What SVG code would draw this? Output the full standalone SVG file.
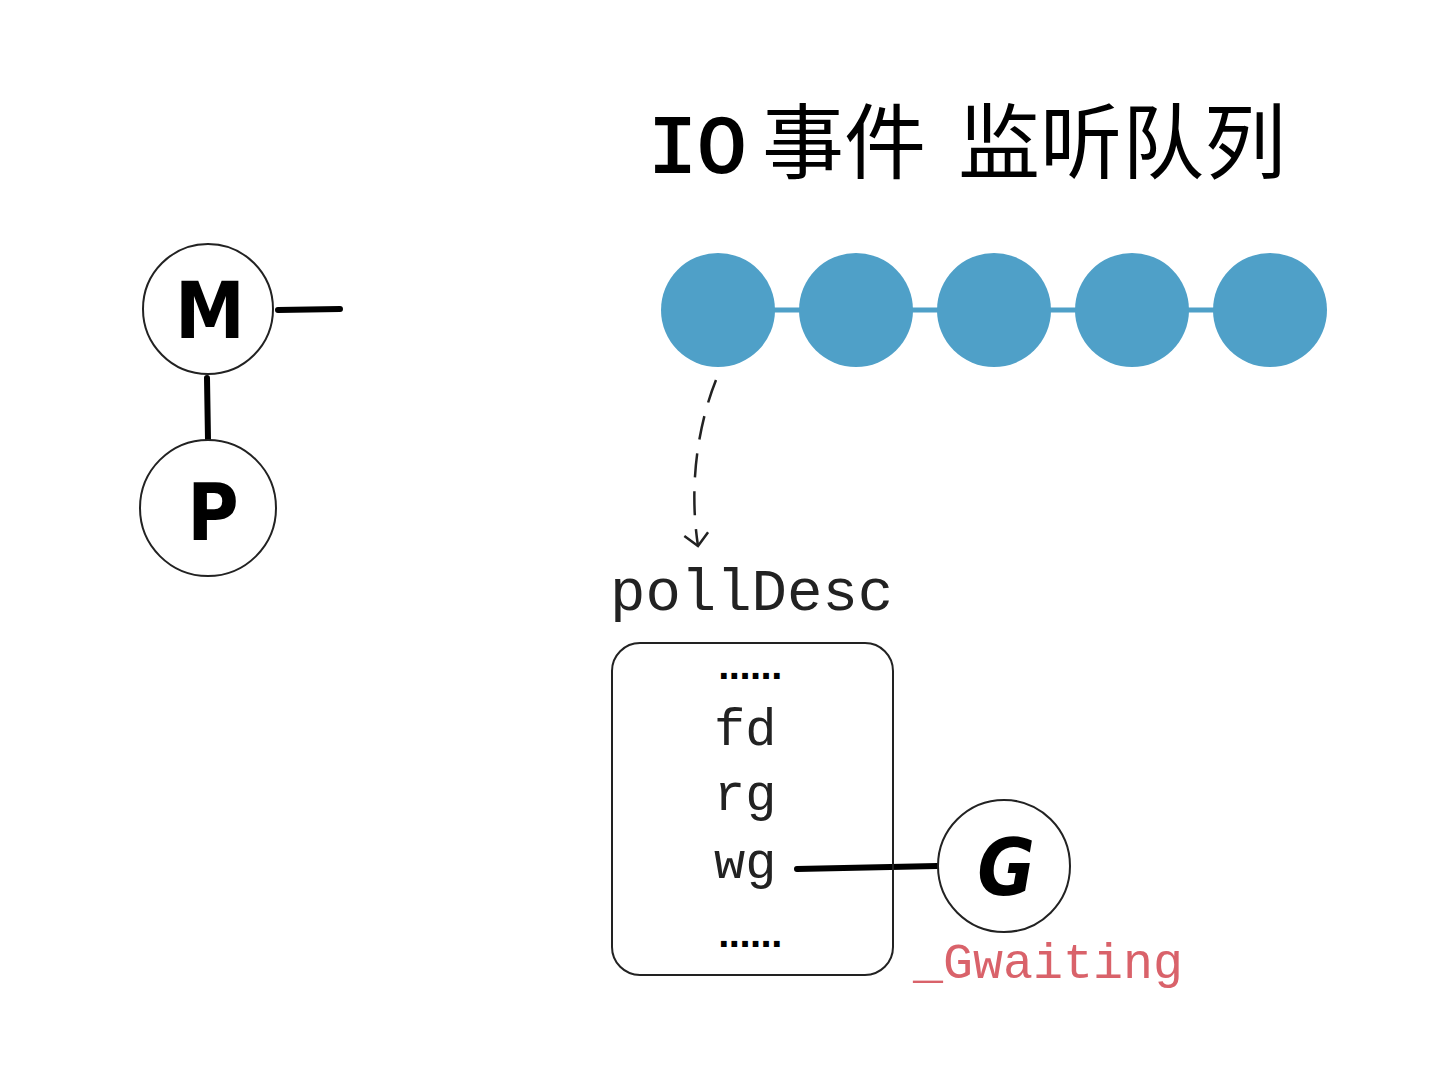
<svg xmlns="http://www.w3.org/2000/svg" width="1435" height="1078" viewBox="0 0 1435 1078">
<style>
.ring{fill:#fff;stroke:#222;stroke-width:2}
.thick{stroke:#000;stroke-width:6;stroke-linecap:round;fill:none}
.bead{fill:#4fa0c8}
.mono{font-family:"Liberation Mono","DejaVu Sans Mono",monospace;fill:#222}
.letter{font-family:"DejaVu Sans Condensed","DejaVu Sans","Liberation Sans",sans-serif;font-weight:bold;fill:#000;text-anchor:middle}
.dots{font-family:"Liberation Sans",sans-serif;font-weight:bold;fill:#000;text-anchor:middle}
</style>
<defs>
<marker id="open" markerWidth="30" markerHeight="30" refX="14" refY="15" orient="auto" markerUnits="userSpaceOnUse">
<path d="M2,3 L14,15 L2,27" fill="none" stroke="#222" stroke-width="2.5"/>
</marker>
</defs>
<rect width="1435" height="1078" fill="#fff"/>
<text x="648" y="172" font-size="82" fill="#000"><tspan font-family="Liberation Mono,monospace" stroke="#000" stroke-width="2">IO</tspan><tspan x="762" font-family="'Noto Sans CJK SC',sans-serif">事件</tspan><tspan x="958" font-family="'Noto Sans CJK SC',sans-serif">监听队列</tspan></text>
<g id="connectors">
<line class="thick" x1="278" y1="310" x2="340" y2="309"/>
<line class="thick" x1="207" y1="378" x2="208" y2="440"/>
<line x1="718" y1="310" x2="1270" y2="310" stroke="#4fa0c8" stroke-width="5"/>
<path d="M716,380 C700,420 688,480 698,546" fill="none" stroke="#222" stroke-width="2.5" stroke-dasharray="24,14" marker-end="url(#open)"/>
<line class="thick" x1="797" y1="869" x2="937" y2="866"/>
</g>
<g id="node-M"><circle class="ring" cx="208" cy="309" r="65"/><text class="letter" x="210" y="338" font-size="78">M</text></g>
<g id="node-P"><circle class="ring" cx="208" cy="508" r="68"/><text class="letter" x="213" y="540" font-size="78">P</text></g>
<g id="queue">
<circle class="bead" cx="718" cy="310" r="57"/>
<circle class="bead" cx="856" cy="310" r="57"/>
<circle class="bead" cx="994" cy="310" r="57"/>
<circle class="bead" cx="1132" cy="310" r="57"/>
<circle class="bead" cx="1270" cy="310" r="57"/>
</g>
<g id="pollDesc">
<text class="mono" x="610" y="610" font-size="59">pollDesc</text>
<rect x="612" y="643" width="281" height="332" rx="28" fill="none" stroke="#222" stroke-width="2"/>
<text class="dots" x="750" y="679" font-size="40" letter-spacing="-0.5">......</text>
<text class="mono" x="714" y="745" font-size="52">fd</text>
<text class="mono" x="714" y="810" font-size="52">rg</text>
<text class="mono" x="714" y="878" font-size="52">wg</text>
<text class="dots" x="750" y="947" font-size="40" letter-spacing="-0.5">......</text>
</g>
<g id="node-G"><circle class="ring" cx="1004" cy="866" r="66"/><text class="letter" x="1006" y="895" font-size="78" font-style="italic">G</text>
<text x="913" y="978" font-size="50" font-family="Liberation Mono,monospace" fill="#d9626a">_Gwaiting</text></g>
</svg>
